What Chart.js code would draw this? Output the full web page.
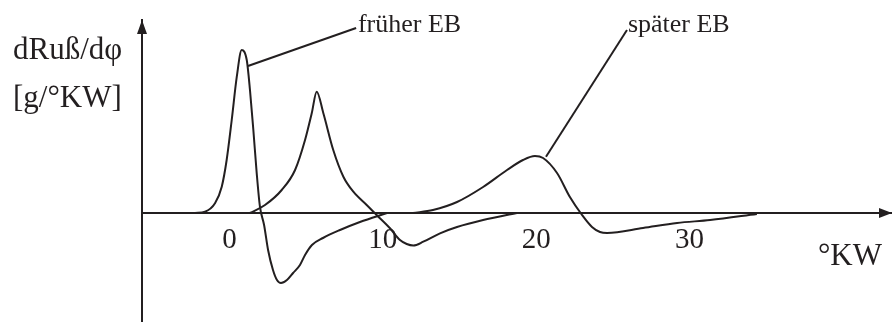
<!DOCTYPE html>
<html>
<head>
<meta charset="utf-8">
<script src="https://cdn.jsdelivr.net/npm/chart.js@4.4.0/dist/chart.umd.min.js"></script>
<style>
  body { margin: 0; background: #fff; }
  canvas { display: block; }
</style>
</head>
<body>
<canvas id="chart" width="892" height="322"></canvas>
<script>
// soot rate curves (x in °KW, y in arbitrary units)
const earlyX = [-2.24, -1.59, -0.94, -0.50, -0.18, 0.15, 0.48, 0.80, 1.13, 1.34, 1.56, 1.78, 1.99, 2.26, 2.52, 2.84, 3.10, 3.36, 3.75, 4.15, 4.60, 4.93, 5.38, 6.10, 7.21, 8.51, 10.27];
const earlyY = [0, 0.13, 0.97, 2.63, 5.3, 9.3, 13.63, 16.3, 15.3, 12.3, 8.3, 3.97, 0.63, -1.2, -3.7, -5.7, -6.7, -7.0, -6.7, -6.0, -5.2, -4.2, -3.2, -2.5, -1.7, -0.9, 0];

const midX = [1.34, 2.32, 3.41, 4.28, 4.93, 5.37, 5.69, 6.12, 6.77, 7.43, 8.08, 8.95, 9.60, 10.47, 11.12, 11.56, 11.99, 12.64, 13.73, 14.84, 16.54, 18.74];
const midY = [0, 0.8, 2.3, 4.3, 7.3, 10.0, 12.13, 10.0, 6.3, 3.63, 2.13, 0.8, -0.2, -1.53, -2.7, -3.1, -3.25, -2.87, -2.03, -1.4, -0.7, 0];

const lateX = [11.97, 13.27, 14.84, 16.54, 18.10, 19.14, 19.92, 20.45, 21.36, 22.20, 22.99, 23.64, 24.16, 24.62, 26.97, 29.19, 31.34, 34.39];
const lateY = [0, 0.3, 1.1, 2.6, 4.3, 5.3, 5.7, 5.5, 4.0, 1.6, -0.2, -1.4, -1.9, -2.0, -1.5, -1.0, -0.7, -0.1];

// leader lines from the curves to their labels
const earlyLeaderX = [1.21, 8.26];
const earlyLeaderY = [14.7, 18.5];
const lateLeaderX = [20.64, 25.92];
const lateLeaderY = [5.63, 18.3];

const labelTexts = ['früher EB', 'später EB'];
const labelX = [8.38, 25.98];
const labelY = [18.1, 18.1];

const tickValues = [0, 10, 20, 30];
const xRange = [-5.7, 43.2];
const yRange = [-10.9, 19.3];
const yTitle = ['dRuß/dφ', '[g/°KW]'];
const xTitle = '°KW';

const ink = '#231f20';
const serif = '"Liberation Serif", "Times New Roman", serif';

function toPoints(xs, ys) {
    return xs.map((x, i) => ({ x: x, y: ys[i] }));
}

function curve(xs, ys) {
    return {
        data: toPoints(xs, ys),
        borderColor: ink,
        borderWidth: 2,
        pointRadius: 0,
        cubicInterpolationMode: 'monotone',
        fill: false
    };
}

function leader(xs, ys) {
    return {
        data: toPoints(xs, ys),
        borderColor: ink,
        borderWidth: 2,
        pointRadius: 0,
        tension: 0,
        fill: false
    };
}

// arrow heads, axis titles and curve labels
const decorations = {
    id: 'decorations',
    afterDraw(chart) {
        const { ctx, chartArea, scales } = chart;
        const xs = scales.x, ys = scales.y;
        const axisY = ys.getPixelForValue(0);
        ctx.save();
        ctx.fillStyle = ink;

        // y arrow
        ctx.beginPath();
        ctx.moveTo(chartArea.left, chartArea.top);
        ctx.lineTo(chartArea.left - 5, chartArea.top + 14);
        ctx.lineTo(chartArea.left + 5, chartArea.top + 14);
        ctx.closePath();
        ctx.fill();

        // x arrow
        ctx.beginPath();
        ctx.moveTo(chartArea.right, axisY);
        ctx.lineTo(chartArea.right - 13, axisY - 5);
        ctx.lineTo(chartArea.right - 13, axisY + 5);
        ctx.closePath();
        ctx.fill();

        ctx.textBaseline = 'alphabetic';
        ctx.font = '31px ' + serif;
        ctx.textAlign = 'left';
        ctx.fillText(yTitle[0], 13, 59);
        ctx.fillText(yTitle[1], 13, 107);

        ctx.textAlign = 'right';
        ctx.fillText(xTitle, chartArea.right - 10, axisY + 52);

        ctx.font = '26px ' + serif;
        ctx.textAlign = 'left';
        labelTexts.forEach((t, i) => {
            ctx.fillText(t, xs.getPixelForValue(labelX[i]), ys.getPixelForValue(labelY[i]));
        });
        ctx.restore();
    }
};

const chart = new Chart(document.getElementById('chart').getContext('2d'), {
    type: 'line',
    data: {
        datasets: [
            curve(earlyX, earlyY),
            curve(midX, midY),
            curve(lateX, lateY),
            leader(earlyLeaderX, earlyLeaderY),
            leader(lateLeaderX, lateLeaderY)
        ]
    },
    options: {
        responsive: false,
        animation: false,
        layout: { padding: { left: 142, right: 0, top: 20, bottom: 0 } },
        plugins: {
            legend: { display: false },
            tooltip: { enabled: false }
        },
        scales: {
            x: {
                type: 'linear',
                min: xRange[0],
                max: xRange[1],
                position: { y: 0 },
                grid: { display: false, drawTicks: false },
                border: { display: true, color: ink, width: 2 },
                afterBuildTicks: (scale) => {
                    scale.ticks = tickValues.map(v => ({ value: v }));
                },
                ticks: {
                    color: ink,
                    padding: 10,
                    maxRotation: 0,
                    font: { family: serif, size: 29 }
                }
            },
            y: {
                type: 'linear',
                min: yRange[0],
                max: yRange[1],
                grid: { display: false, drawTicks: false },
                border: { display: true, color: ink, width: 2 },
                ticks: { display: false },
                afterFit: (scale) => { scale.width = 0; }
            }
        }
    },
    plugins: [decorations]
});
</script>
</body>
</html>
